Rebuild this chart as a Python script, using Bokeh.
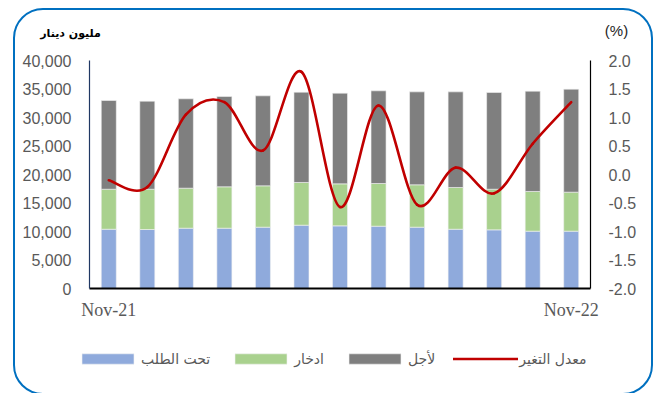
from bokeh.plotting import figure
from bokeh.models import (Range1d, LinearAxis, NumeralTickFormatter, FixedTicker,
                          Legend, LegendItem, Label, ColumnDataSource)
from bokeh.embed import file_html
from bokeh.resources import INLINE

# ---- data ----
months = ["Nov-21", "Dec-21", "Jan-22", "Feb-22", "Mar-22", "Apr-22", "May-22",
          "Jun-22", "Jul-22", "Aug-22", "Sep-22", "Oct-22", "Nov-22"]
demand = [10400, 10350, 10580, 10580, 10760, 11110, 10990, 10930, 10760, 10400, 10290, 10060, 10060]
savings = [7020, 7070, 7020, 7260, 7250, 7490, 7370, 7490, 7430, 7320, 7130, 6960, 6840]
term = [15560, 15440, 15680, 15840, 15790, 15840, 15910, 16260, 16310, 16780, 16970, 17600, 18070]
change = [-0.10, -0.22, 1.05, 1.27, 0.42, 1.80, -0.57, 1.21, -0.53, 0.12, -0.33, 0.54, 1.27]
left_ticks = [0, 5000, 10000, 15000, 20000, 25000, 30000, 35000, 40000]
right_ticks = [-2.0, -1.5, -1.0, -0.5, 0.0, 0.5, 1.0, 1.5, 2.0]
shown_x_labels = {0: "Nov-21", 12: "Nov-22"}
series_names = ["تحت الطلب", "ادخار", "لأجل", "معدل التغير"]
left_title = "مليون دينار"
right_title = "(%)"

x = list(range(len(months)))
source = ColumnDataSource(dict(x=x, demand=demand, savings=savings, term=term))

# ---- layout (pixels of the page) ----
W, H = 640, 387                   # figure size (border drawn by CSS)
CX, CY = 15, 10                   # canvas origin on the page
PL, PR, PT, PB = 89, 590, 60, 288  # plot area of the reference chart
ymax, pmin, pmax = left_ticks[-1], right_ticks[0], right_ticks[-1]
n = len(x)
xu = (PR - PL) / n
x_lo = -0.5 - (PL - CX) / xu
x_hi = n - 0.5 + (CX + W - PR) / xu
yu = (PB - PT) / ymax
y_hi = ymax + (PT - CY) / yu
y_lo = -(CY + H - PB) / yu
pu = (PB - PT) / (pmax - pmin)
p_hi = pmax + (PT - CY) / pu
p_lo = pmin - (CY + H - PB) / pu

p = figure(width=W, height=H, x_range=Range1d(x_lo, x_hi), y_range=Range1d(y_lo, y_hi),
           output_backend="svg", toolbar_location=None,
           min_border_left=0, min_border_right=0, min_border_top=0, min_border_bottom=0)
p.styles = {"border": "2px solid #0070C0", "border-radius": "30px",
            "margin-left": "13px", "margin-top": "8px"}
p.background_fill_color = None
p.border_fill_color = None
p.outline_line_color = None
p.xgrid.visible = False
p.ygrid.visible = False

bar_colors = ["#8FAADC", "#A9D18E", "#7F7F7F"]
bars = p.vbar_stack(["demand", "savings", "term"], x="x", width=0.39, color=bar_colors,
                    line_color="#F2F2F2", line_width=0.6, source=source)

# smoothed line (Catmull-Rom style bezier through the data points)
bx0, by0, bx1, by1, bcx0, bcy0, bcx1, bcy1 = [], [], [], [], [], [], [], []
for i in range(n - 1):
    ip = max(i - 1, 0)
    inn = min(i + 2, n - 1)
    bx0.append(x[i]); by0.append(change[i])
    bx1.append(x[i + 1]); by1.append(change[i + 1])
    bcx0.append(x[i] + (x[i + 1] - x[ip]) / 6.0)
    bcy0.append(change[i] + (change[i + 1] - change[ip]) / 6.0)
    bcx1.append(x[i + 1] - (x[inn] - x[i]) / 6.0)
    bcy1.append(change[i + 1] - (change[inn] - change[i]) / 6.0)

p.extra_y_ranges = {"pct": Range1d(p_lo, p_hi)}
line = p.bezier(x0=bx0, y0=by0, x1=bx1, y1=by1, cx0=bcx0, cy0=bcy0, cx1=bcx1, cy1=bcy1,
                y_range_name="pct", line_color="#C00000", line_width=2.6,
                line_cap="round", line_join="round")

# axes (drawn at fixed data locations)
tick_color = "#595959"
ya = p.yaxis[0]
ya.fixed_location = -0.5
ya.bounds = (0, ymax)
ya.ticker = FixedTicker(ticks=left_ticks)
ya.formatter = NumeralTickFormatter(format="0,0")
ya.major_label_text_font = "Liberation Sans"
ya.major_label_text_font_size = "16px"
ya.major_label_text_color = tick_color
ya.axis_line_color = "#203864"
ya.axis_line_width = 1.2
ya.major_tick_line_color = None
ya.minor_tick_line_color = None
ya.major_tick_out = 0
ya.major_tick_in = 0
ya.major_label_standoff = 18

ra = LinearAxis(y_range_name="pct", ticker=FixedTicker(ticks=right_ticks),
                formatter=NumeralTickFormatter(format="0.0"))
ra.fixed_location = n - 0.5
ra.bounds = (pmin, pmax)
ra.major_label_text_font = "Liberation Sans"
ra.major_label_text_font_size = "16px"
ra.major_label_text_color = tick_color
ra.axis_line_color = "black"
ra.axis_line_width = 1.2
ra.major_tick_line_color = None
ra.minor_tick_line_color = None
ra.major_tick_out = 0
ra.major_tick_in = 0
ra.major_label_standoff = 18
p.add_layout(ra, "right")

xa = p.xaxis[0]
xa.fixed_location = 0
xa.bounds = (-0.5, n - 0.5)
xa.ticker = FixedTicker(ticks=list(shown_x_labels.keys()))
xa.major_label_overrides = shown_x_labels
xa.major_label_text_font = "Liberation Serif"
xa.major_label_text_font_size = "18px"
xa.major_label_text_color = tick_color
xa.axis_line_color = "black"
xa.axis_line_width = 2
xa.major_tick_line_color = None
xa.minor_tick_line_color = None
xa.major_tick_out = 0
xa.major_tick_in = 0
xa.major_label_standoff = 11

# captions
p.add_layout(Label(x=-0.5 + (70 - PL) / xu, y=(PB - 33) / yu, text=left_title,
                   text_align="center", text_baseline="middle",
                   text_font="DejaVu Sans", text_font_style="bold",
                   text_font_size="11px", text_color="black"))
p.add_layout(Label(x=-0.5 + (616 - PL) / xu, y=pmax + (PT - 30) / pu, y_range_name="pct",
                   text=right_title, text_align="center", text_baseline="middle",
                   text_font="Liberation Sans", text_font_size="15px",
                   text_color="#262626"))

legend = Legend(items=[LegendItem(label=series_names[0], renderers=[bars[0]]),
                       LegendItem(label=series_names[1], renderers=[bars[1]]),
                       LegendItem(label=series_names[2], renderers=[bars[2]]),
                       LegendItem(label=series_names[3], renderers=[line])],
                orientation="horizontal", location=(75 - CX, CY + H - 366.5),
                glyph_width=65, glyph_height=13, label_height=13, label_standoff=1,
                spacing=18, padding=0, margin=0,
                border_line_color=None, background_fill_alpha=0,
                label_text_font="DejaVu Sans", label_text_font_size="14px",
                label_text_color=tick_color)
p.add_layout(legend, "center")

open("out.html", "w").write(file_html(p, INLINE))
